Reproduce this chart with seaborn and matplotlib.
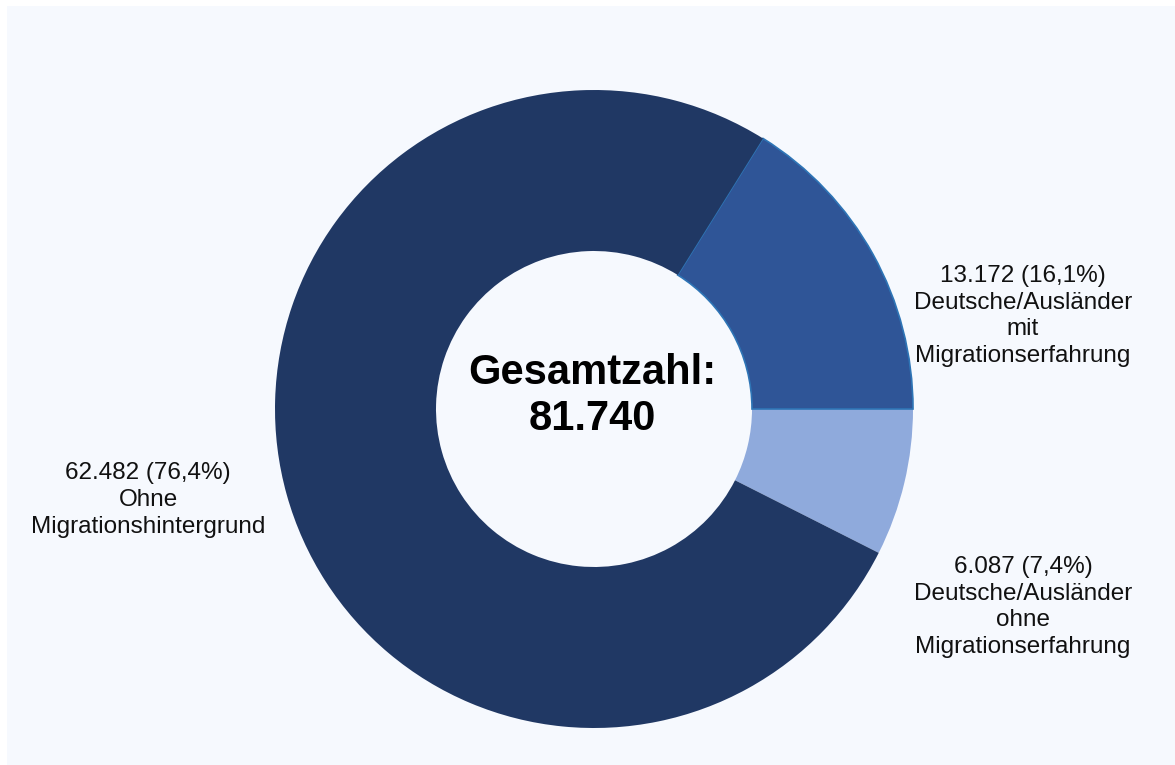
import matplotlib
matplotlib.use("Agg")
import matplotlib.pyplot as plt
from matplotlib.patches import Rectangle
import seaborn as sns

# Data (counterclockwise from the start angle)
categories = ["Deutsche/Ausländer\nohne\nMigrationserfahrung",
              "Deutsche/Ausländer\nmit\nMigrationserfahrung",
              "Ohne\nMigrationshintergrund"]
values = [6087, 13172, 62482]
value_labels = ["6.087", "13.172", "62.482"]
percent_labels = ["7,4%", "16,1%", "76,4%"]
total_label = "81.740"
colors = ["#8faadc", "#2f5597", "#203864"]

sns.set_theme(style="white")
plt.rcParams['font.family'] = ['Liberation Sans', 'DejaVu Sans']

W, H = 1175, 765
BG = "#f6f9fe"
fig = plt.figure(figsize=(W / 100, H / 100), dpi=100)
fig.patch.set_facecolor(BG)
# white strips at top and left edges
fig.patches.append(Rectangle((0, 1 - 6 / H), 1, 6 / H, transform=fig.transFigure,
                             facecolor="white", edgecolor="none", zorder=0))
fig.patches.append(Rectangle((0, 0), 7 / W, 1, transform=fig.transFigure,
                             facecolor="white", edgecolor="none", zorder=0))

ax = fig.add_axes([0, 0, 1, 1])
ax.patch.set_visible(False)

cx, cy = 594, H - 409
R_out, R_in = 319, 158
start = -360 * values[0] / sum(values)
wedges, _ = ax.pie(values, colors=colors, startangle=start, counterclock=True,
                   center=(cx, cy), radius=R_out, frame=True,
                   wedgeprops=dict(width=R_out - R_in, linewidth=0))
wedges[1].set_edgecolor("#2e75b6")
wedges[1].set_linewidth(1.2)
ax.set_aspect("auto")
ax.set_xlim(0, W)
ax.set_ylim(0, H)
for s in ax.spines.values():
    s.set_visible(False)
ax.set_xticks([])
ax.set_yticks([])

label_pos = [(1023, H - 607), (1023, H - 316), (148, H - 500)]
for (x, y), v, p, c in zip(label_pos, value_labels, percent_labels, categories):
    ax.text(x, y, f"{v} ({p})\n{c}", ha="center", va="center",
            fontsize=17.5, color="#111111", linespacing=1.27)

ax.text(592, H - 373, "Gesamtzahl:", ha="center", va="center",
        fontsize=30, fontweight="bold", color="black")
ax.text(592, H - 419, total_label, ha="center", va="center",
        fontsize=30, fontweight="bold", color="black")

fig.savefig("out.png", dpi=100, facecolor=fig.get_facecolor())
